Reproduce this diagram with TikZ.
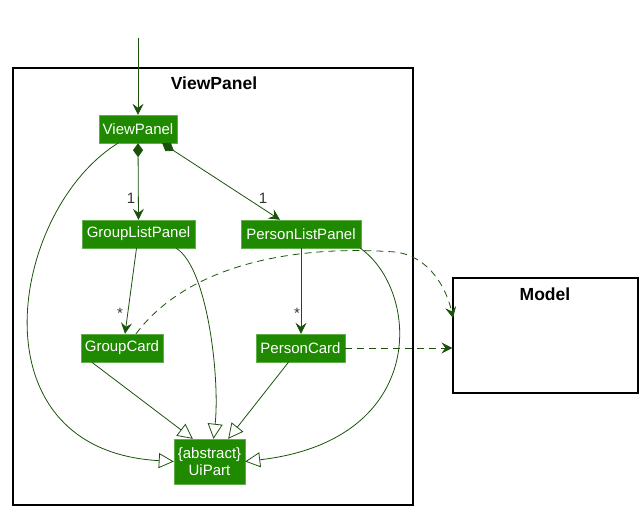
\documentclass[tikz,border=0pt]{standalone}
\usepackage{fontspec}
\setmainfont{Liberation Sans}
\usetikzlibrary{arrows.meta}
\definecolor{cfill}{HTML}{1F8A00}
\definecolor{cline}{HTML}{1B520B}
\tikzset{
  cls/.style={fill=cfill, draw=cfill!70!white, text=white, font=\fontsize{15}{16}\selectfont, inner sep=0pt, minimum height=28pt, align=center},
  pkg/.style={draw=black, line width=1.2pt},
  ttl/.style={font=\bfseries\fontsize{17.5}{19}\selectfont},
  rel/.style={draw=cline, line width=0.8pt},
  nav/.style={rel, -{Stealth[length=11pt,width=11pt,inset=4pt]}},
  comp/.style={rel, {Diamond[length=14pt,width=10pt]}-{Stealth[length=11pt,width=11pt,inset=4pt]}},
  inh/.style={rel, -{Triangle[open,length=15pt,width=15pt,fill=white]}},
  dep/.style={rel, dashed, dash pattern=on 7pt off 5pt, -{Stealth[length=11pt,width=11pt,inset=4pt]}},
  mult/.style={font=\fontsize{15}{16}\selectfont, text=black!80}
}
\begin{document}
\begin{tikzpicture}[x=1pt,y=-1pt]
\useasboundingbox (0,0) rectangle (643,512);
% packages
\node[pkg, minimum width=400pt, minimum height=437pt, inner sep=0pt] (vp) at (213,286.5) {};
\node[ttl] (vpt) at (214,83) {ViewPanel};
\node[pkg, minimum width=185pt, minimum height=115pt, inner sep=0pt] (model) at (545.5,335.5) {};
\node[ttl] (mt) at (545,294) {Model};
% classes
\node[cls, minimum width=78pt] (viewpanel) at (138,129) {ViewPanel};
\node[cls, minimum width=113pt] (glp) at (138.5,234) {GroupListPanel};
\node[cls, minimum width=120pt] (plp) at (301,234) {PersonListPanel};
\node[cls, minimum width=82pt] (gc) at (122,348) {GroupCard};
\node[cls, minimum width=89pt] (pc) at (300.5,348) {PersonCard};
\node[cls, minimum width=71pt, minimum height=45pt, font=\fontsize{15}{17}\selectfont] (ui) at (209.5,461.5) {\{abstract\}\\UiPart};
\coordinate (entry) at (138,38);
% entry
\draw[nav] (entry) -- (viewpanel.north);
% compositions
\draw[comp] (viewpanel.south) -- (glp.north);
\draw[comp] ([xshift=-15pt]viewpanel.south east) -- ([xshift=-21pt]plp.north);
\node[mult] (m1) at (131,198) {1};
\node[mult] (m2) at (263,198) {1};
% aggregation
\draw[nav] ([xshift=-2pt]glp.south) -- ([xshift=3pt]gc.north);
\draw[nav] (plp.south) -- ([xshift=0.5pt]pc.north);
\node[mult] (m3) at (120,313) {*};
\node[mult] (m4) at (297,313) {*};
% inheritance
\draw[inh] ([xshift=11pt]gc.south west) -- ([xshift=19pt]ui.north west);
\draw[inh] ([xshift=-12pt]pc.south) -- ([xshift=-17pt]ui.north east);
\draw[inh] ([xshift=-19pt]glp.south east) .. controls (208,268) and (220,380) .. ([xshift=4pt]ui.north);
\draw[inh] ([xshift=-20pt]viewpanel.south) .. controls (10,210) and (-30,450) .. (ui.west);
\draw[inh] ([xshift=-1pt]plp.south east) .. controls (420,290) and (430,440) .. (ui.east);
% dependencies
\coordinate (mtop) at (453,318);
\draw[dep] ([xshift=14pt]gc.north) .. controls (190,262) and (300,245) .. (395,252) .. controls (430,256) and (447,290) .. (mtop);
\draw[dep] (pc.east) -- (model.west |- pc.east);
\end{tikzpicture}
\end{document}
